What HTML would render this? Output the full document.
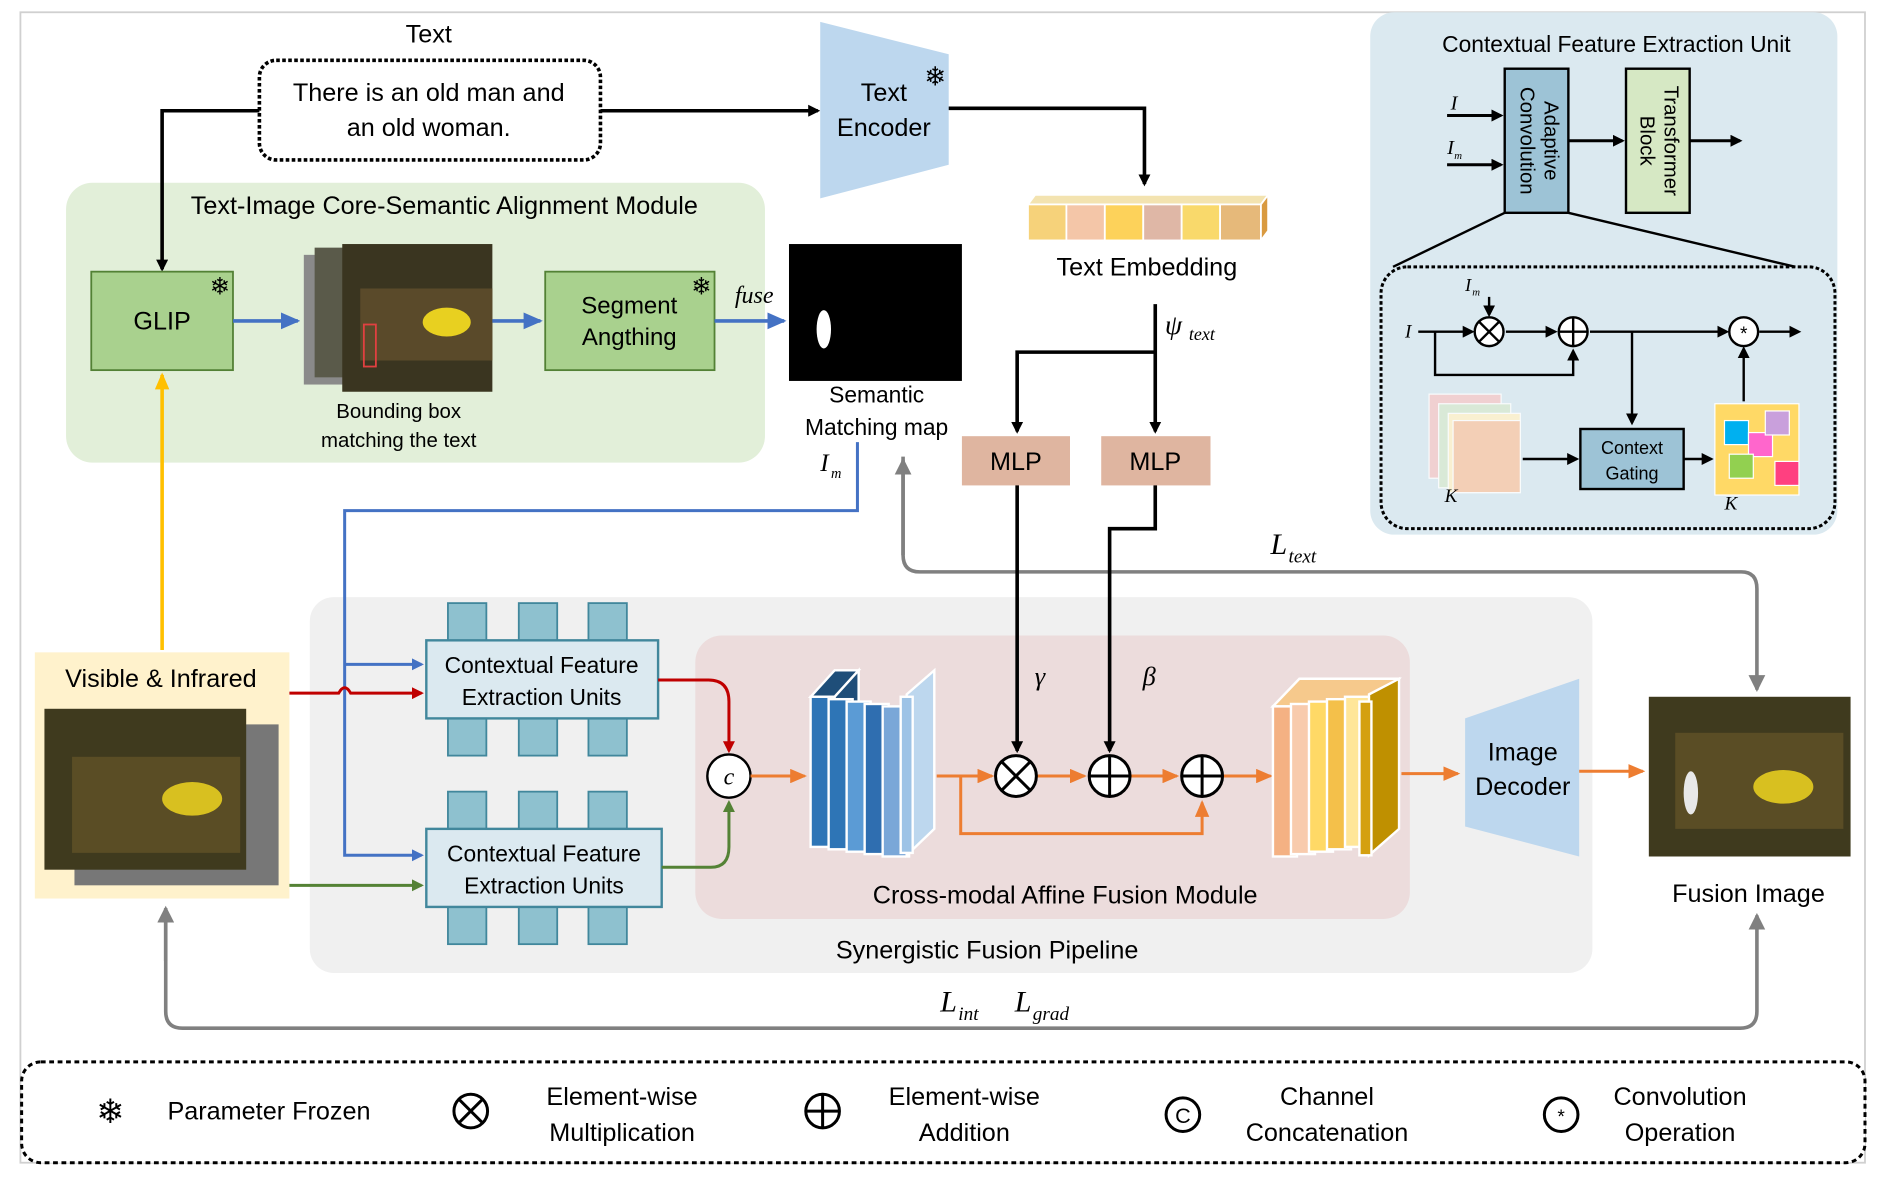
<!DOCTYPE html>
<html><head><meta charset="utf-8"><style>
html,body{margin:0;padding:0;background:#fff;}
svg{display:block;}
text{font-family:"Liberation Sans","DejaVu Sans",sans-serif;}
.it{font-family:"Liberation Serif",serif;font-style:italic;}
</style></head><body>
<svg width="1883" height="1193" viewBox="0 0 1568 993" xmlns="http://www.w3.org/2000/svg">
<defs>
<marker id="ak" markerWidth="10" markerHeight="10" refX="8" refY="5" orient="auto" markerUnits="userSpaceOnUse"><path d="M0,0 L10,5 L0,10 z" fill="#000"/></marker>
<marker id="ab" markerWidth="16" markerHeight="14" refX="14" refY="7" orient="auto" markerUnits="userSpaceOnUse"><path d="M0,0 L16,7 L0,14 z" fill="#4472c4"/></marker>
<marker id="ab2" markerWidth="10" markerHeight="10" refX="8" refY="5" orient="auto" markerUnits="userSpaceOnUse"><path d="M0,0 L10,5 L0,10 z" fill="#4472c4"/></marker>
<marker id="ar" markerWidth="10" markerHeight="10" refX="8" refY="5" orient="auto" markerUnits="userSpaceOnUse"><path d="M0,0 L10,5 L0,10 z" fill="#c00000"/></marker>
<marker id="ag" markerWidth="10" markerHeight="10" refX="8" refY="5" orient="auto" markerUnits="userSpaceOnUse"><path d="M0,0 L10,5 L0,10 z" fill="#548235"/></marker>
<marker id="ao" markerWidth="14" markerHeight="12" refX="12" refY="6" orient="auto" markerUnits="userSpaceOnUse"><path d="M0,0 L14,6 L0,12 z" fill="#ed7d31"/></marker>
<marker id="ay" markerWidth="14" markerHeight="12" refX="12" refY="6" orient="auto" markerUnits="userSpaceOnUse"><path d="M0,0 L14,6 L0,12 z" fill="#ffc000"/></marker>
<marker id="agr" markerWidth="14" markerHeight="14" refX="12" refY="7" orient="auto" markerUnits="userSpaceOnUse"><path d="M0,0 L14,7 L0,14 z" fill="#808080"/></marker>
</defs>
<rect x="17" y="10" width="1536" height="958" fill="none" stroke="#d0d0d0" stroke-width="1.5"/>

<!-- backgrounds -->
<rect x="55" y="152" width="582" height="233" rx="22" fill="#e2efd9"/>
<rect x="258" y="497" width="1068" height="313" rx="20" fill="#f0f0f0"/>
<rect x="579" y="529" width="595" height="236" rx="22" fill="#ecdcdc"/>

<!-- top text -->
<text x="357" y="35" font-size="21" text-anchor="middle">Text</text>
<rect x="216" y="50" width="284" height="83" rx="14" fill="#fff" stroke="#000" stroke-width="3" stroke-dasharray="3,2"/>
<text x="357" y="84" font-size="21" text-anchor="middle">There is an old man and</text>
<text x="357" y="113" font-size="21" text-anchor="middle">an old woman.</text>
<line x1="500" y1="92" x2="681" y2="92" stroke="#000" stroke-width="3" marker-end="url(#ak)"/>
<polyline points="216,92 135,92 135,224" fill="none" stroke="#000" stroke-width="3" marker-end="url(#ak)"/>
<polygon points="683,18 790,45 790,137 683,165" fill="#bdd7ee"/>
<text x="736" y="84" font-size="21" text-anchor="middle">Text</text>
<text x="736" y="113" font-size="21" text-anchor="middle">Encoder</text>
<text x="779" y="71" font-size="22" text-anchor="middle">❄</text>
<polyline points="790,90 953,90 953,153" fill="none" stroke="#000" stroke-width="3" marker-end="url(#ak)"/>
<!-- embedding -->
<g stroke="#fff" stroke-width="1.5">
<polygon points="856,170 862,162 1056,162 1050,170" fill="#f3e3b0"/>
<rect x="856" y="170" width="32" height="30" fill="#f6d27a"/>
<rect x="888" y="170" width="32" height="30" fill="#f4c6a8"/>
<rect x="920" y="170" width="32" height="30" fill="#fdd25a"/>
<rect x="952" y="170" width="32" height="30" fill="#dfb7a6"/>
<rect x="984" y="170" width="32" height="30" fill="#f9d96b"/>
<rect x="1016" y="170" width="34" height="30" fill="#e6b97a"/>
<polygon points="1050,170 1056,162 1056,192 1050,200" fill="#d99a40"/>
</g>
<text x="955" y="229" font-size="21" text-anchor="middle">Text Embedding</text>
<line x1="962" y1="253" x2="962" y2="359" stroke="#000" stroke-width="3" marker-end="url(#ak)"/>
<polyline points="962,293 847,293 847,359" fill="none" stroke="#000" stroke-width="3" marker-end="url(#ak)"/>
<text x="970" y="278" font-size="23" class="it">ψ</text><text x="990" y="283" font-size="15" class="it">text</text>
<rect x="801" y="363" width="90" height="41" fill="#dfb5a0"/>
<text x="846" y="391" font-size="21" text-anchor="middle">MLP</text>
<rect x="917" y="363" width="91" height="41" fill="#dfb5a0"/>
<text x="962" y="391" font-size="21" text-anchor="middle">MLP</text>

<!-- green module -->
<text x="370" y="178" font-size="21" text-anchor="middle">Text-Image Core-Semantic Alignment Module</text>
<rect x="76" y="226" width="118" height="82" fill="#a9d18e" stroke="#538135" stroke-width="1.5"/>
<text x="135" y="274" font-size="21" text-anchor="middle">GLIP</text>
<text x="183" y="245" font-size="20" text-anchor="middle">❄</text>
<line x1="194" y1="267" x2="248" y2="267" stroke="#4472c4" stroke-width="3" marker-end="url(#ab)"/>
<rect x="253" y="212" width="115" height="108" fill="#8a8a8a"/>
<rect x="262" y="206" width="115" height="108" fill="#5a5a4a"/>
<rect x="285" y="203" width="125" height="123" fill="#3a3520"/>
<rect x="300" y="240" width="110" height="60" fill="#5a4a2a"/>
<ellipse cx="372" cy="268" rx="20" ry="12" fill="#e8d020"/>
<rect x="303" y="270" width="10" height="35" fill="none" stroke="#e04040" stroke-width="1.5"/>
<line x1="410" y1="267" x2="450" y2="267" stroke="#4472c4" stroke-width="3" marker-end="url(#ab)"/>
<text x="332" y="348" font-size="17" text-anchor="middle">Bounding box</text>
<text x="332" y="372" font-size="17" text-anchor="middle">matching the text</text>
<rect x="454" y="226" width="141" height="82" fill="#a9d18e" stroke="#538135" stroke-width="1.5"/>
<text x="524" y="261" font-size="20" text-anchor="middle">Segment</text>
<text x="524" y="287" font-size="20" text-anchor="middle">Angthing</text>
<text x="584" y="245" font-size="20" text-anchor="middle">❄</text>
<text x="628" y="252" font-size="20" class="it" text-anchor="middle">fuse</text>
<line x1="595" y1="267" x2="653" y2="267" stroke="#4472c4" stroke-width="3" marker-end="url(#ab)"/>
<rect x="657" y="203" width="144" height="114" fill="#000"/>
<ellipse cx="686" cy="274" rx="6" ry="16" fill="#fff"/>
<text x="730" y="335" font-size="19" text-anchor="middle">Semantic</text>
<text x="730" y="362" font-size="19" text-anchor="middle">Matching map</text>
<text x="683" y="392" font-size="21" class="it">I</text><text x="692" y="398" font-size="12" class="it">m</text>

<!-- blue Im line -->
<polyline points="714,368 714,425 287,425 287,712 351,712" fill="none" stroke="#4472c4" stroke-width="2.5" marker-end="url(#ab2)"/>
<line x1="287" y1="553" x2="351" y2="553" stroke="#4472c4" stroke-width="2.5" marker-end="url(#ab2)"/>

<!-- L_text gray -->
<path d="M752,380 L752,462 Q752,476 766,476 L1450,476 Q1463,476 1463,490 L1463,574" fill="none" stroke="#808080" stroke-width="3" marker-end="url(#agr)"/>
<line x1="752" y1="462" x2="752" y2="383" stroke="#808080" stroke-width="3" marker-end="url(#agr)"/>
<text x="1058" y="461" font-size="25" class="it">L</text><text x="1073" y="468" font-size="16" class="it">text</text>

<!-- pipeline -->
<text x="822" y="798" font-size="21" text-anchor="middle">Synergistic Fusion Pipeline</text>
<text x="887" y="752" font-size="21" text-anchor="middle">Cross-modal Affine Fusion Module</text>

<!-- CFE units -->
<g fill="#8ec1cf" stroke="#41879c" stroke-width="1.5">
<rect x="373" y="502" width="32" height="32"/><rect x="432" y="502" width="32" height="32"/><rect x="490" y="502" width="32" height="32"/>
<rect x="373" y="597" width="32" height="32"/><rect x="432" y="597" width="32" height="32"/><rect x="490" y="597" width="32" height="32"/>
<rect x="373" y="659" width="32" height="32"/><rect x="432" y="659" width="32" height="32"/><rect x="490" y="659" width="32" height="32"/>
<rect x="373" y="754" width="32" height="32"/><rect x="432" y="754" width="32" height="32"/><rect x="490" y="754" width="32" height="32"/>
</g>
<rect x="355" y="533" width="193" height="65" fill="#dbe9f0" stroke="#41879c" stroke-width="2"/>
<text x="451" y="560" font-size="19" text-anchor="middle">Contextual Feature</text>
<text x="451" y="587" font-size="19" text-anchor="middle">Extraction Units</text>
<rect x="355" y="690" width="196" height="65" fill="#dbe9f0" stroke="#41879c" stroke-width="2"/>
<text x="453" y="717" font-size="19" text-anchor="middle">Contextual Feature</text>
<text x="453" y="744" font-size="19" text-anchor="middle">Extraction Units</text>

<!-- visible & infrared -->
<rect x="29" y="543" width="212" height="205" fill="#fff2cc"/>
<text x="134" y="572" font-size="21" text-anchor="middle">Visible &amp; Infrared</text>
<rect x="62" y="603" width="170" height="134" fill="#777"/>
<rect x="37" y="590" width="168" height="134" fill="#3f3a1e"/>
<rect x="60" y="630" width="140" height="80" fill="#5a4d25"/>
<ellipse cx="160" cy="665" rx="25" ry="14" fill="#d8c020"/>
<line x1="135" y1="541" x2="135" y2="312" stroke="#ffc000" stroke-width="3" marker-end="url(#ay)"/>
<path d="M241,577 L282,577 Q287,568 292,577 L351,577" fill="none" stroke="#c00000" stroke-width="2.5" marker-end="url(#ar)"/>
<line x1="241" y1="737" x2="351" y2="737" stroke="#548235" stroke-width="2.5" marker-end="url(#ag)"/>
<path d="M548,566 L590,566 Q607,566 607,584 L607,625" fill="none" stroke="#c00000" stroke-width="2.5" marker-end="url(#ar)"/>
<path d="M551,722 L592,722 Q607,722 607,705 L607,668" fill="none" stroke="#548235" stroke-width="2.5" marker-end="url(#ag)"/>
<circle cx="607" cy="646" r="18" fill="#fff" stroke="#000" stroke-width="2"/>
<text x="607" y="653" font-size="20" class="it" text-anchor="middle">c</text>
<line x1="625" y1="646" x2="670" y2="646" stroke="#ed7d31" stroke-width="2.5" marker-end="url(#ao)"/>

<!-- blue blocks -->
<g stroke="#fff" stroke-width="2">
<polygon points="675,580 695,558 715,558 695,580" fill="#1f4e79"/>
<rect x="675" y="580" width="20" height="125" fill="#2e75b6"/>
<polygon points="695,580 715,558 715,683 695,705" fill="#1f4e79"/>
<rect x="690" y="582" width="20" height="125" fill="#2e75b6"/>
<rect x="705" y="584" width="20" height="125" fill="#5b9bd5"/>
<rect x="720" y="586" width="20" height="125" fill="#2f6eb0"/>
<rect x="735" y="588" width="22" height="125" fill="#7aa7d8"/>
<polygon points="755,578 778,558 778,690 755,712" fill="#bdd7ee"/>
<rect x="750" y="580" width="10" height="130" fill="#9dc3e6"/>
</g>
<line x1="780" y1="646" x2="826" y2="646" stroke="#ed7d31" stroke-width="2.5" marker-end="url(#ao)"/>
<polyline points="800,646 800,694 1001,694 1001,668" fill="none" stroke="#ed7d31" stroke-width="2.5" marker-end="url(#ao)"/>
<line x1="863" y1="646" x2="903" y2="646" stroke="#ed7d31" stroke-width="2.5" marker-end="url(#ao)"/>
<line x1="941" y1="646" x2="980" y2="646" stroke="#ed7d31" stroke-width="2.5" marker-end="url(#ao)"/>
<line x1="1018" y1="646" x2="1058" y2="646" stroke="#ed7d31" stroke-width="2.5" marker-end="url(#ao)"/>
<line x1="847" y1="404" x2="847" y2="625" stroke="#000" stroke-width="3" marker-end="url(#ak)"/>
<polyline points="962,404 962,440 924,440 924,625" fill="none" stroke="#000" stroke-width="3" marker-end="url(#ak)"/>
<text x="866" y="570" font-size="22" class="it" text-anchor="middle">γ</text>
<text x="957" y="570" font-size="22" class="it" text-anchor="middle">β</text>
<g fill="#fff" stroke="#000" stroke-width="2.5">
<circle cx="846" cy="646" r="17"/><line x1="834" y1="634" x2="858" y2="658"/><line x1="858" y1="634" x2="834" y2="658"/>
<circle cx="924" cy="646" r="17"/><line x1="907" y1="646" x2="941" y2="646"/><line x1="924" y1="629" x2="924" y2="663"/>
<circle cx="1001" cy="646" r="17"/><line x1="984" y1="646" x2="1018" y2="646"/><line x1="1001" y1="629" x2="1001" y2="663"/>
</g>
<!-- orange blocks -->
<g stroke="#fff" stroke-width="2">
<polygon points="1060,588 1082,565 1165,565 1143,588" fill="#f6c98c"/>
<rect x="1060" y="588" width="20" height="125" fill="#f4b183"/>
<rect x="1075" y="586" width="20" height="125" fill="#f8cbad"/>
<rect x="1090" y="584" width="20" height="125" fill="#ffd966"/>
<rect x="1105" y="582" width="20" height="125" fill="#f4c04a"/>
<rect x="1120" y="580" width="22" height="125" fill="#ffe699"/>
<polygon points="1140,578 1165,565 1165,690 1140,712" fill="#bf9000"/>
<rect x="1132" y="584" width="10" height="128" fill="#d4a010"/>
</g>
<line x1="1167" y1="644" x2="1214" y2="644" stroke="#ed7d31" stroke-width="2.5" marker-end="url(#ao)"/>
<polygon points="1220,598 1315,565 1315,713 1220,688" fill="#bdd7ee"/>
<text x="1268" y="633" font-size="21" text-anchor="middle">Image</text>
<text x="1268" y="662" font-size="21" text-anchor="middle">Decoder</text>
<line x1="1315" y1="642" x2="1368" y2="642" stroke="#ed7d31" stroke-width="2.5" marker-end="url(#ao)"/>
<rect x="1373" y="580" width="168" height="133" fill="#3f3a1e"/>
<rect x="1395" y="610" width="140" height="80" fill="#5a4d25"/>
<ellipse cx="1485" cy="655" rx="25" ry="14" fill="#d8c020"/>
<ellipse cx="1408" cy="660" rx="6" ry="18" fill="#e8e8e8"/>
<text x="1456" y="751" font-size="21" text-anchor="middle">Fusion Image</text>

<!-- bottom gray loss -->
<path d="M138,757 L138,842 Q138,856 152,856 L1449,856 Q1463,856 1463,842 L1463,762" fill="none" stroke="#808080" stroke-width="3" marker-end="url(#agr)"/>
<line x1="138" y1="800" x2="138" y2="756" stroke="#808080" stroke-width="3" marker-end="url(#agr)"/>
<text x="783" y="842" font-size="25" class="it">L</text><text x="798" y="849" font-size="16" class="it">int</text>
<text x="845" y="842" font-size="25" class="it">L</text><text x="860" y="849" font-size="16" class="it">grad</text>

<!-- right panel -->
<rect x="1141" y="10" width="389" height="435" rx="20" fill="#dbe9f0"/>
<text x="1346" y="43" font-size="19" text-anchor="middle">Contextual Feature Extraction Unit</text>
<rect x="1253" y="57" width="53" height="120" fill="#9dc3d6" stroke="#000" stroke-width="2"/>
<text transform="translate(1286,117) rotate(90)" font-size="17" text-anchor="middle">Adaptive</text>
<text transform="translate(1266,117) rotate(90)" font-size="17" text-anchor="middle">Convolution</text>
<rect x="1354" y="57" width="53" height="120" fill="#d6e8c4" stroke="#000" stroke-width="2"/>
<text transform="translate(1386,117) rotate(90)" font-size="17" text-anchor="middle">Transformer</text>
<text transform="translate(1366,117) rotate(90)" font-size="17" text-anchor="middle">Block</text>
<line x1="1205" y1="96" x2="1250" y2="96" stroke="#000" stroke-width="2.5" marker-end="url(#ak)"/>
<line x1="1205" y1="137" x2="1250" y2="137" stroke="#000" stroke-width="2.5" marker-end="url(#ak)"/>
<text x="1208" y="91" font-size="17" class="it">I</text>
<text x="1205" y="128" font-size="17" class="it">I</text><text x="1211" y="132" font-size="9" class="it">m</text>
<line x1="1306" y1="117" x2="1351" y2="117" stroke="#000" stroke-width="2.5" marker-end="url(#ak)"/>
<line x1="1407" y1="117" x2="1449" y2="117" stroke="#000" stroke-width="2.5" marker-end="url(#ak)"/>
<line x1="1253" y1="177" x2="1160" y2="222" stroke="#000" stroke-width="2"/>
<line x1="1306" y1="177" x2="1495" y2="222" stroke="#000" stroke-width="2"/>
<rect x="1150" y="222" width="378" height="218" rx="22" fill="none" stroke="#000" stroke-width="2.5" stroke-dasharray="3,2"/>
<text x="1170" y="281" font-size="16" class="it">I</text>
<text x="1220" y="242" font-size="15" class="it">I</text><text x="1226" y="246" font-size="9" class="it">m</text>
<line x1="1240" y1="247" x2="1240" y2="262" stroke="#000" stroke-width="2" marker-end="url(#ak)"/>
<line x1="1181" y1="276" x2="1226" y2="276" stroke="#000" stroke-width="2" marker-end="url(#ak)"/>
<line x1="1254" y1="276" x2="1295" y2="276" stroke="#000" stroke-width="2" marker-end="url(#ak)"/>
<line x1="1324" y1="276" x2="1438" y2="276" stroke="#000" stroke-width="2" marker-end="url(#ak)"/>
<line x1="1465" y1="276" x2="1498" y2="276" stroke="#000" stroke-width="2" marker-end="url(#ak)"/>
<polyline points="1195,276 1195,312 1310,312 1310,292" fill="none" stroke="#000" stroke-width="2" marker-end="url(#ak)"/>
<line x1="1359" y1="276" x2="1359" y2="352" stroke="#000" stroke-width="2" marker-end="url(#ak)"/>
<g fill="#fff" stroke="#000" stroke-width="2">
<circle cx="1240" cy="276" r="12"/><line x1="1232" y1="268" x2="1248" y2="284"/><line x1="1248" y1="268" x2="1232" y2="284"/>
<circle cx="1310" cy="276" r="12"/><line x1="1298" y1="276" x2="1322" y2="276"/><line x1="1310" y1="264" x2="1310" y2="288"/>
<circle cx="1452" cy="276" r="12"/>
</g>
<text x="1452" y="283" font-size="16" text-anchor="middle">*</text>
<g opacity="0.85" stroke="#fff" stroke-width="1">
<rect x="1190" y="328" width="60" height="70" fill="#f4cccc"/>
<rect x="1198" y="336" width="60" height="70" fill="#d9ead3"/>
<rect x="1206" y="344" width="60" height="66" fill="#fff2cc"/>
<rect x="1210" y="350" width="56" height="60" fill="#f8cbad"/>
</g>
<text x="1203" y="418" font-size="16" class="it">K</text>
<line x1="1268" y1="382" x2="1313" y2="382" stroke="#000" stroke-width="2" marker-end="url(#ak)"/>
<rect x="1316" y="357" width="86" height="50" fill="#9dc3d6" stroke="#000" stroke-width="2"/>
<text x="1359" y="378" font-size="15" text-anchor="middle">Context</text>
<text x="1359" y="399" font-size="15" text-anchor="middle">Gating</text>
<line x1="1402" y1="382" x2="1425" y2="382" stroke="#000" stroke-width="2" marker-end="url(#ak)"/>
<g stroke="#fff" stroke-width="1">
<rect x="1428" y="336" width="70" height="76" fill="#ffd966"/>
<rect x="1436" y="350" width="20" height="20" fill="#00b0f0"/>
<rect x="1456" y="360" width="20" height="20" fill="#ff66cc"/>
<rect x="1440" y="378" width="20" height="20" fill="#92d050"/>
<rect x="1470" y="342" width="20" height="20" fill="#c9a0dc"/>
<rect x="1478" y="384" width="20" height="20" fill="#ff4080"/>
</g>
<line x1="1452" y1="334" x2="1452" y2="290" stroke="#000" stroke-width="2" marker-end="url(#ak)"/>
<text x="1436" y="424" font-size="16" class="it">K</text>

<!-- legend -->
<rect x="18" y="884" width="1535" height="84" rx="16" fill="#fff" stroke="#000" stroke-width="2.5" stroke-dasharray="4,3"/>
<text x="92" y="935" font-size="28" text-anchor="middle">❄</text>
<text x="224" y="932" font-size="21" text-anchor="middle">Parameter Frozen</text>
<g fill="#fff" stroke="#000" stroke-width="2.5">
<circle cx="392" cy="925" r="14"/><line x1="382" y1="915" x2="402" y2="935"/><line x1="402" y1="915" x2="382" y2="935"/>
<circle cx="685" cy="925" r="14"/><line x1="671" y1="925" x2="699" y2="925"/><line x1="685" y1="911" x2="685" y2="939"/>
<circle cx="985" cy="928" r="14"/>
<circle cx="1300" cy="928" r="14"/>
</g>
<text x="985" y="935" font-size="18" text-anchor="middle">C</text>
<text x="1300" y="935" font-size="16" text-anchor="middle">*</text>
<text x="518" y="920" font-size="21" text-anchor="middle">Element-wise</text>
<text x="518" y="950" font-size="21" text-anchor="middle">Multiplication</text>
<text x="803" y="920" font-size="21" text-anchor="middle">Element-wise</text>
<text x="803" y="950" font-size="21" text-anchor="middle">Addition</text>
<text x="1105" y="920" font-size="21" text-anchor="middle">Channel</text>
<text x="1105" y="950" font-size="21" text-anchor="middle">Concatenation</text>
<text x="1399" y="920" font-size="21" text-anchor="middle">Convolution</text>
<text x="1399" y="950" font-size="21" text-anchor="middle">Operation</text>
</svg>
</body></html>
